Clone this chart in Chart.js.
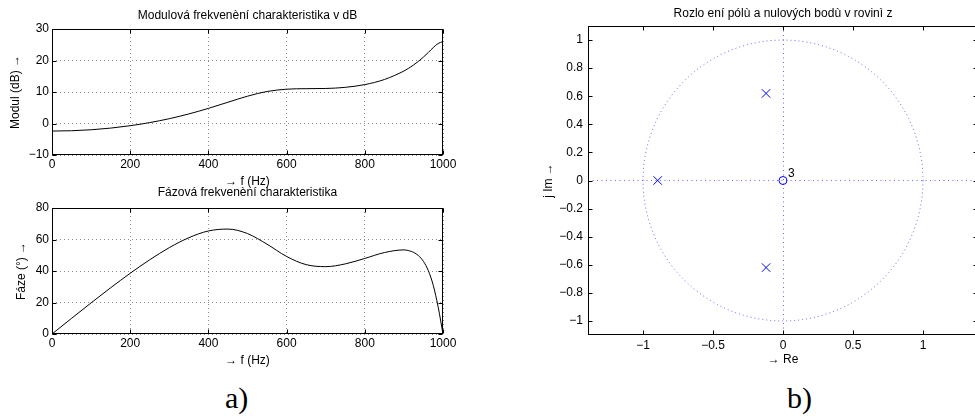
<!DOCTYPE html>
<html>
<head>
<meta charset="utf-8">
<script src="https://cdn.jsdelivr.net/npm/chart.js@4"></script>
<style>
  html, body { margin: 0; padding: 0; background: #fff; width: 975px; height: 416px; overflow: hidden; position: relative; }
  .box { position: absolute; }
  .tag { position: absolute; font-family: "Liberation Serif", "DejaVu Serif", serif; font-size: 30px; line-height: 1; color: #000; }
</style>
</head>
<body>
<div class="box" style="left:0;top:0;width:463px;height:189px"><canvas id="mag"></canvas></div>
<div class="box" style="left:0;top:180px;width:463px;height:188px"><canvas id="phase"></canvas></div>
<div class="box" style="left:500px;top:0;width:498px;height:367px"><canvas id="zplane"></canvas></div>
<div class="tag" style="left:225px;top:383px">a)</div>
<div class="tag" style="left:787px;top:383px">b)</div>
<script>
// frequency response (Hz)
const freqHz = [0, 50, 100, 150, 200, 250, 300, 350, 400, 450, 500, 550, 600, 650, 700, 750, 800, 850, 900,
  912.5, 925, 937.5, 950, 962.5, 975, 987.5, 1000];
const moduleDb = [-2.40, -2.30, -1.99, -1.46, -0.70, 0.29, 1.53, 3.04, 4.80, 6.75, 8.67, 10.16, 10.89, 11.06,
  11.12, 11.48, 12.35, 13.96, 16.66, 17.56, 18.60, 19.77, 21.09, 22.55, 24.1, 25.4, 26.0];
const phaseDeg = [0, 9.94, 19.76, 29.36, 38.55, 47.15, 54.84, 61.14, 65.42, 66.62, 63.76, 57.01, 49.23, 44.04,
  42.76, 44.51, 47.98, 51.70, 53.40, 52.9, 51.82, 49.7, 46.07, 40.2, 30.94, 17.3, 0];

const freqTicks = [0, 200, 400, 600, 800, 1000];
const moduleTicks = [-10, 0, 10, 20, 30];
const phaseTicks = [0, 20, 40, 60, 80];

// poles and zeros in the z plane
const poleRe = [-0.895, -0.121, -0.121];
const poleIm = [0, 0.62, -0.62];
const zeroRe = [0];
const zeroIm = [0];
const zeroCount = ['3'];
const unitRadius = 1;
const reTicks = [-1, -0.5, 0, 0.5, 1];
const imTicks = [1, 0.8, 0.6, 0.4, 0.2, 0, -0.2, -0.4, -0.6, -0.8, -1];

Chart.defaults.font.family = '"Liberation Sans", Arial, Helvetica, sans-serif';
Chart.defaults.font.size = 12;
Chart.defaults.color = '#000';

const fmt = v => (v < 0 ? '\u2212' + Math.abs(v) : String(v));
const setTicks = list => s => { s.ticks = list.map(v => ({ value: v })); };

// matlab style box with inward ticks
const framePlugin = {
  id: 'frame',
  afterDraw(chart) {
    const { ctx, chartArea: a, scales } = chart;
    const L = Math.round(a.left) + 0.5, R = Math.round(a.right) - 0.5;
    const T = Math.round(a.top) + 0.5, B = Math.round(a.bottom) - 0.5;
    ctx.save();
    ctx.strokeStyle = '#000';
    ctx.lineWidth = 1;
    ctx.beginPath();
    scales.x.ticks.forEach(t => {
      const p = Math.round(scales.x.getPixelForValue(t.value)) + 0.5;
      ctx.moveTo(p, B); ctx.lineTo(p, B - 4);
      ctx.moveTo(p, T); ctx.lineTo(p, T + 4);
    });
    scales.y.ticks.forEach(t => {
      const p = Math.round(scales.y.getPixelForValue(t.value)) + 0.5;
      ctx.moveTo(L, p); ctx.lineTo(L + 4, p);
      ctx.moveTo(R, p); ctx.lineTo(R - 4, p);
    });
    ctx.stroke();
    ctx.strokeRect(L, T, R - L, B - T);
    ctx.restore();
  }
};

function bodeChart(id, values, yTicks, title, yTitle, titlePad, yTitlePad) {
  return new Chart(document.getElementById(id), {
    type: 'line',
    data: {
      datasets: [{
        data: freqHz.map((f, i) => ({ x: f, y: values[i] })),
        borderColor: '#000',
        borderWidth: 1,
        pointRadius: 0,
        cubicInterpolationMode: 'monotone',
        fill: false
      }]
    },
    options: {
      animation: false,
      responsive: true,
      maintainAspectRatio: false,
      layout: { padding: { left: 0, right: 20, top: 0, bottom: 0 } },
      plugins: {
        legend: { display: false },
        tooltip: { enabled: false },
        title: { display: true, text: title, fullSize: false, color: '#000',
                 font: { size: 12, weight: 'normal' }, padding: titlePad }
      },
      scales: {
        x: {
          type: 'linear', min: 0, max: 1000,
          afterBuildTicks: setTicks(freqTicks),
          afterFit: s => { s.height = 34; },
          grid: { color: 'rgba(0,0,0,0.45)', drawTicks: false },
          border: { display: false, dash: [1, 3] },
          ticks: { padding: 2.8, maxRotation: 0, autoSkip: false, callback: fmt },
          title: { display: true, text: '\u2192 f (Hz)', padding: 0 }
        },
        y: {
          min: yTicks[0], max: yTicks[yTicks.length - 1],
          afterBuildTicks: setTicks(yTicks),
          afterFit: s => { s.width = 52; },
          grid: { color: 'rgba(0,0,0,0.45)', drawTicks: false },
          border: { display: false, dash: [1, 3] },
          ticks: { padding: 3, autoSkip: false, callback: fmt },
          title: { display: true, text: yTitle, padding: { top: yTitlePad, bottom: 0 } }
        }
      }
    },
    plugins: [framePlugin]
  });
}

bodeChart('mag', moduleDb, moduleTicks, 'Modulová frekvenèní charakteristika v dB',
  'Modul (dB) \u2192', { top: 8.8, bottom: 5.8 }, 8.8);
bodeChart('phase', phaseDeg, phaseTicks, 'Fázová frekvenèní charakteristika',
  'Fáze (°) \u2192', { top: 5.8, bottom: 7.8 }, 14.8);

// unit circle and multiplicity label
const zplanePlugin = {
  id: 'zplane',
  beforeDatasetsDraw(chart) {
    const { ctx, scales: { x, y } } = chart;
    const cx = x.getPixelForValue(0), cy = y.getPixelForValue(0);
    const rx = x.getPixelForValue(unitRadius) - cx, ry = cy - y.getPixelForValue(unitRadius);
    ctx.save();
    ctx.strokeStyle = 'rgba(0,0,255,0.6)';
    ctx.lineWidth = 1;
    ctx.setLineDash([1, 3]);
    ctx.beginPath();
    ctx.ellipse(cx, cy, rx, ry, 0, 0, Math.PI * 2);
    ctx.stroke();
    ctx.restore();
  },
  afterDatasetsDraw(chart) {
    const { ctx, scales: { x, y } } = chart;
    ctx.save();
    ctx.fillStyle = '#000';
    ctx.font = '12px "Liberation Sans", Arial, sans-serif';
    ctx.textAlign = 'left';
    ctx.textBaseline = 'middle';
    zeroRe.forEach((r, i) => {
      ctx.fillText(zeroCount[i], x.getPixelForValue(r) + 5, y.getPixelForValue(zeroIm[i]) - 7);
    });
    ctx.restore();
  }
};

const axisColor = c => (c.tick && c.tick.value === 0 ? 'rgba(0,0,255,0.6)' : 'rgba(0,0,0,0)');

new Chart(document.getElementById('zplane'), {
  type: 'scatter',
  data: {
    datasets: [
      {
        label: 'poles',
        data: poleRe.map((r, i) => ({ x: r, y: poleIm[i] })),
        pointStyle: 'crossRot', pointRadius: 6, borderColor: '#0000ff', borderWidth: 1,
        backgroundColor: 'rgba(0,0,0,0)'
      },
      {
        label: 'zeros',
        data: zeroRe.map((r, i) => ({ x: r, y: zeroIm[i] })),
        pointStyle: 'circle', pointRadius: 4, borderColor: '#0000ff', borderWidth: 1,
        backgroundColor: 'rgba(0,0,0,0)'
      }
    ]
  },
  options: {
    animation: false,
    responsive: true,
    maintainAspectRatio: false,
    layout: { padding: { left: 0, right: 20, top: 0, bottom: 0 } },
    plugins: {
      legend: { display: false },
      tooltip: { enabled: false },
      title: { display: true, text: 'Rozlo ení pólù a nulových bodù v rovinì z', fullSize: false, color: '#000',
               font: { size: 12, weight: 'normal' }, padding: { top: 6.8, bottom: 4.8 } }
    },
    scales: {
      x: {
        type: 'linear', min: -1.393, max: 1.393,
        afterBuildTicks: setTicks(reTicks),
        afterFit: s => { s.height = 32; },
        grid: { color: axisColor, drawTicks: false },
        border: { display: false, dash: [1, 3.5] },
        ticks: { padding: 3.8, maxRotation: 0, autoSkip: false, callback: fmt },
        title: { display: true, text: '\u2192 Re', padding: 0 }
      },
      y: {
        min: -1.1, max: 1.1,
        afterBuildTicks: setTicks(imTicks),
        afterFit: s => { s.width = 88; },
        grid: { color: axisColor, drawTicks: false },
        border: { display: false, dash: [1, 3.5] },
        ticks: { padding: 5, autoSkip: false, callback: fmt },
        title: { display: true, text: 'j Im \u2192', padding: { top: 41.8, bottom: 0 } }
      }
    }
  },
  plugins: [zplanePlugin, framePlugin]
});
</script>
</body>
</html>
